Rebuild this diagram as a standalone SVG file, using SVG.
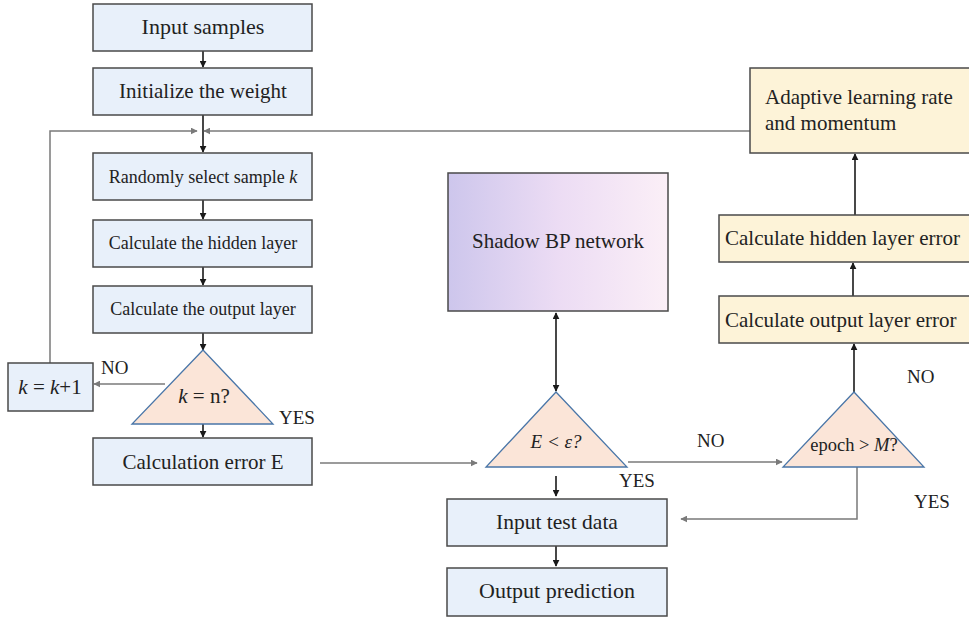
<svg xmlns="http://www.w3.org/2000/svg" width="969" height="620" viewBox="0 0 969 620">
<defs>
<marker id="ab" viewBox="0 0 10 10" refX="9" refY="5" markerWidth="7" markerHeight="7" markerUnits="userSpaceOnUse" orient="auto-start-reverse"><path d="M0,0 L10,5 L0,10 z" fill="#1a1a1a"/></marker>
<marker id="ag" viewBox="0 0 10 10" refX="9" refY="5" markerWidth="7" markerHeight="7" markerUnits="userSpaceOnUse" orient="auto"><path d="M0,0 L10,5 L0,10 z" fill="#7a7a7a"/></marker>
<linearGradient id="shadow" x1="0" y1="0" x2="1" y2="0">
<stop offset="0" stop-color="#cdc6ec"/>
<stop offset="0.5" stop-color="#ecdcf4"/>
<stop offset="1" stop-color="#fbeff7"/>
</linearGradient>
</defs>
<style>
text{font-family:"Liberation Serif","DejaVu Serif",serif;fill:#222;}
.blue{fill:#e8f0fa;stroke:#4a4a4a;stroke-width:1.5;}
.yel{fill:#fdf3d8;stroke:#4a4a4a;stroke-width:1.5;}
.tri{fill:#fbe5d8;stroke:#4a76a8;stroke-width:1.3;}
.bk{stroke:#1a1a1a;stroke-width:1.6;fill:none;}
.gy{stroke:#7a7a7a;stroke-width:1.5;fill:none;}
.c{text-anchor:middle;}
</style>
<rect width="969" height="620" fill="#fff"/>

<g id="connectors">
<line class="bk" x1="203" y1="51" x2="203" y2="67" marker-end="url(#ab)"/>
<line class="bk" x1="203" y1="115" x2="203" y2="152" marker-end="url(#ab)"/>
<polyline class="gy" points="50,363 50,131 197,131" marker-end="url(#ag)"/>
<line class="gy" x1="750" y1="131" x2="204" y2="131" marker-end="url(#ag)"/>
<line class="bk" x1="203" y1="200" x2="203" y2="219" marker-end="url(#ab)"/>
<line class="bk" x1="203" y1="267" x2="203" y2="285" marker-end="url(#ab)"/>
<line class="bk" x1="203" y1="333" x2="203" y2="350" marker-end="url(#ab)"/>
<line class="gy" x1="165" y1="384" x2="94" y2="384" marker-end="url(#ag)"/>
<line class="bk" x1="203" y1="421" x2="203" y2="437" marker-end="url(#ab)"/>
<line class="gy" x1="320" y1="463" x2="477" y2="463" marker-end="url(#ag)"/>
<line class="bk" x1="556" y1="313" x2="556" y2="391" marker-start="url(#ab)" marker-end="url(#ab)"/>
<line class="gy" x1="628" y1="462" x2="782" y2="462" marker-end="url(#ag)"/>
<line class="bk" x1="556" y1="476" x2="556" y2="496" marker-end="url(#ab)"/>
<line class="bk" x1="556" y1="546" x2="556" y2="566" marker-end="url(#ab)"/>
<polyline class="gy" points="857,467 857,519 681,519" marker-end="url(#ag)"/>
<line class="bk" x1="854" y1="392" x2="854" y2="344" marker-end="url(#ab)"/>
<line class="bk" x1="853" y1="296" x2="853" y2="263" marker-end="url(#ab)"/>
<line class="bk" x1="855" y1="215" x2="855" y2="154" marker-end="url(#ab)"/>
</g>

<g id="input-samples"><rect class="blue" x="93" y="4" width="219" height="47"/><text class="c" x="203" y="34" font-size="22">Input samples</text></g>
<g id="init-weight"><rect class="blue" x="93" y="68" width="219" height="47"/><text class="c" x="203" y="98" font-size="21">Initialize the weight</text></g>
<g id="random-select"><rect class="blue" x="93" y="153" width="219" height="47"/><text class="c" x="203" y="183" font-size="18">Randomly select sample <tspan font-style="italic">k</tspan></text></g>
<g id="calc-hidden"><rect class="blue" x="93" y="220" width="219" height="47"/><text class="c" x="203" y="249" font-size="18">Calculate the hidden layer</text></g>
<g id="calc-output"><rect class="blue" x="93" y="286" width="219" height="47"/><text class="c" x="203" y="315" font-size="18">Calculate the output layer</text></g>
<g id="k-eq-n"><polygon class="tri" points="203,350 273,424 132,424"/><text class="c" x="204" y="403" font-size="21"><tspan font-style="italic">k</tspan> = n?</text></g>
<g id="k-inc"><rect class="blue" x="8" y="363" width="85" height="48"/><text class="c" x="50" y="394" font-size="21"><tspan font-style="italic">k</tspan> = <tspan font-style="italic">k</tspan>+1</text></g>
<g id="calc-error"><rect class="blue" x="93" y="438" width="219" height="47"/><text class="c" x="203" y="469" font-size="21">Calculation error E</text></g>

<g id="shadow-bp"><rect x="448" y="173" width="220" height="138" fill="url(#shadow)" stroke="#4a4a4a" stroke-width="1.5"/><text class="c" x="558" y="248" font-size="21">Shadow BP network</text></g>
<g id="e-lt-eps"><polygon class="tri" points="556,392 627,467 486,467"/><text class="c" x="556" y="448" font-size="19" font-style="italic">E &lt; ε?</text></g>
<g id="input-test"><rect class="blue" x="447" y="499" width="220" height="47"/><text class="c" x="557" y="529" font-size="21.5">Input test data</text></g>
<g id="output-pred"><rect class="blue" x="447" y="568" width="220" height="48"/><text class="c" x="557" y="598" font-size="22">Output prediction</text></g>

<g id="epoch"><polygon class="tri" points="854,392 924,467 783,467"/><text class="c" x="854" y="451" font-size="18.5">epoch &gt; <tspan font-style="italic">M</tspan>?</text></g>
<g id="calc-out-err"><rect class="yel" x="719" y="296" width="260" height="47"/><text x="725" y="327" font-size="21">Calculate output layer error</text></g>
<g id="calc-hid-err"><rect class="yel" x="719" y="215" width="260" height="47"/><text x="725" y="245" font-size="21">Calculate hidden layer error</text></g>
<g id="adaptive"><rect class="yel" x="750" y="68" width="230" height="85"/><text x="765" y="104" font-size="21">Adaptive learning rate</text><text x="765" y="130" font-size="21">and momentum</text></g>

<g id="labels">
<text x="101" y="374" font-size="19">NO</text>
<text x="279" y="424" font-size="19">YES</text>
<text x="697" y="447" font-size="19">NO</text>
<text x="619" y="487" font-size="19">YES</text>
<text x="907" y="383" font-size="19">NO</text>
<text x="914" y="508" font-size="19">YES</text>
</g>
</svg>
